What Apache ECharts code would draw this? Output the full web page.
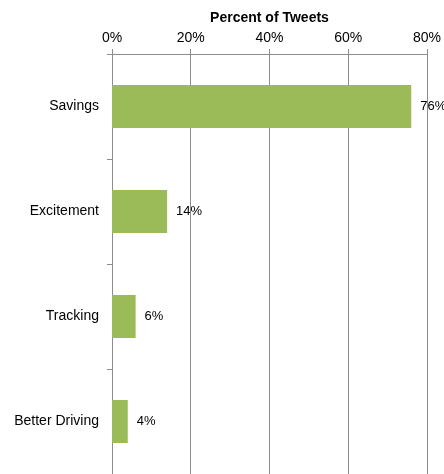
<!DOCTYPE html>
<html>
<head>
<meta charset="utf-8">
<script src="https://cdn.jsdelivr.net/npm/echarts@6/dist/echarts.min.js"></script>
<style>
  html, body { margin: 0; padding: 0; background: #fff; }
  #chart { width: 444px; height: 474px; }
</style>
</head>
<body>
<div id="chart"></div>
<script>
// Share of tweets by theme
const categories = ['Savings', 'Excitement', 'Tracking', 'Better Driving'];
const percentValues = [76, 14, 6, 4];
const axisTicks = [0, 20, 40, 60, 80];

const chart = echarts.init(document.getElementById('chart'), null, { renderer: 'canvas' });

const fontFamily = 'Liberation Sans, Arial, sans-serif';
const lineColor = '#8c8c8c';

chart.setOption({
  animation: false,
  grid: { left: 112, right: 16, top: 54, height: 422 },
  xAxis: {
    type: 'value',
    position: 'top',
    min: axisTicks[0],
    max: axisTicks[axisTicks.length - 1],
    interval: axisTicks[1] - axisTicks[0],
    name: 'Percent of Tweets',
    nameLocation: 'middle',
    nameGap: 29,
    nameTextStyle: { fontFamily, fontSize: 14, fontWeight: 'bold', color: '#000' },
    axisLine: { show: true, lineStyle: { color: lineColor, width: 1 } },
    axisTick: { show: true, length: 5, lineStyle: { color: lineColor } },
    axisLabel: { formatter: '{value}%', fontFamily, fontSize: 14, color: '#000', margin: 9 },
    splitLine: { show: true, lineStyle: { color: lineColor, width: 1 } }
  },
  yAxis: {
    type: 'category',
    data: categories,
    inverse: true,
    axisLine: { show: true, lineStyle: { color: lineColor, width: 1 } },
    axisTick: { show: true, length: 5, alignWithLabel: false, lineStyle: { color: lineColor } },
    axisLabel: { fontFamily, fontSize: 14, color: '#000', margin: 13 }
  },
  series: [{
    type: 'bar',
    data: percentValues,
    barWidth: '41%',
    itemStyle: { color: '#9bbb59' },
    label: {
      show: true,
      position: 'right',
      distance: 9,
      formatter: '{c}%',
      fontFamily,
      fontSize: 13,
      color: '#000'
    }
  }]
});
</script>
</body>
</html>
